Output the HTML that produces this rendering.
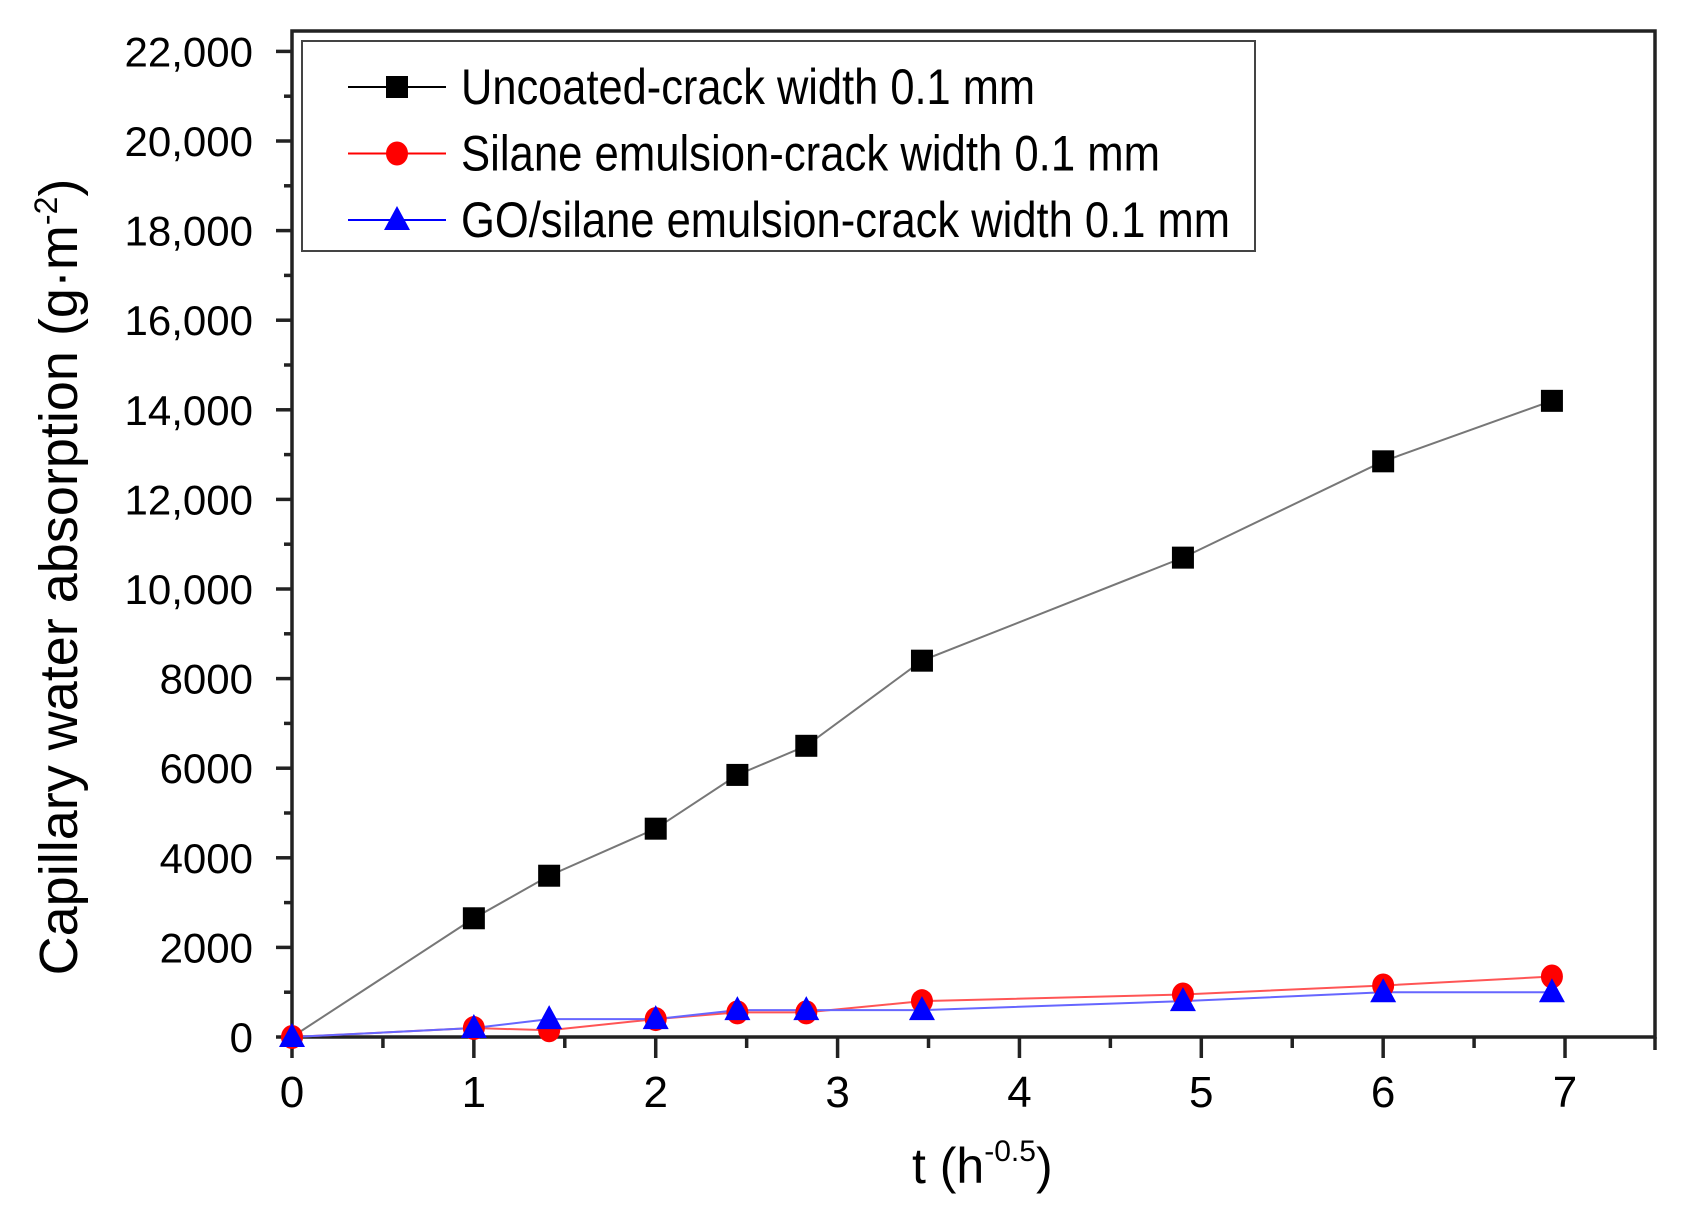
<!DOCTYPE html>
<html><head><meta charset="utf-8"><style>html,body{margin:0;padding:0;background:#fff}</style></head>
<body>
<svg width="1686" height="1227" viewBox="0 0 1686 1227" xmlns="http://www.w3.org/2000/svg" font-family="'Liberation Sans', Arial, sans-serif">
<rect width="1686" height="1227" fill="#fff"/>
<text font-size="54" text-anchor="middle" transform="translate(77,577) rotate(-90)" fill="#000">Capillary water absorption (g·m<tspan dy="-20" font-size="32">-2</tspan><tspan dy="20">)</tspan></text>
<text x="912" y="1183" font-size="50" fill="#000">t (h<tspan dy="-22" font-size="30">-0.5</tspan><tspan dy="22">)</tspan></text>
<script>
(function(){
const ns="http://www.w3.org/2000/svg";
const svg=document.querySelector('svg');
function el(t,a,txt){const e=document.createElementNS(ns,t);for(const k in a)e.setAttribute(k,a[k]);if(txt!==undefined)e.textContent=txt;svg.appendChild(e);return e;}
const X=v=>292+v*181.86, Y=v=>1037-v*0.0448;
el('rect',{x:292,y:31,width:1363,height:1006,fill:'none',stroke:'#222','stroke-width':3.5});
for(let v=0;v<=22000;v+=1000){const y=Y(v);const maj=v%2000==0;
 el('line',{x1:maj?276:284,x2:292,y1:y,y2:y,stroke:'#222','stroke-width':3.5});
 if(maj){let s=v>=10000?(v/1000)+',000':String(v);
  el('text',{x:253,y:y+15,'font-size':42,'text-anchor':'end',fill:'#000'},s);}}
for(let i=0;i<=14;i++){const v=i*0.5;const x=X(v);const maj=i%2==0;
 el('line',{x1:x,x2:x,y1:1037,y2:maj?1058:1048,stroke:'#222','stroke-width':3.5});
 if(maj)el('text',{x:x,y:1107,'font-size':44,'text-anchor':'middle',fill:'#000'},String(v));}
el('line',{x1:1655,x2:1655,y1:1037,y2:1050,stroke:'#222','stroke-width':3.5});
const xs=[0,1,1.414,2,2.449,2.828,3.464,4.899,6,6.928];
const A=[0,2650,3600,4650,5850,6500,8400,10700,12850,14200];
const B=[0,200,150,400,550,550,800,950,1150,1350];
const C=[0,200,400,400,600,600,600,800,1000,1000];
function line(d,c){el('polyline',{points:xs.map((x,i)=>X(x)+','+Y(d[i])).join(' '),fill:'none',stroke:c,'stroke-width':2});}
line(A,'#777');line(B,'#f55');line(C,'#66f');
const sq=(x,y)=>el('rect',{x:x-11,y:y-11,width:22,height:22,fill:'#000'});
const ci=(x,y)=>el('ellipse',{cx:x,cy:y,rx:11,ry:12,fill:'#f00'});
const tr=(x,y)=>el('polygon',{points:`${x},${y-14} ${x-13},${y+10} ${x+13},${y+10}`,fill:'#00f'});
xs.forEach((x,i)=>ci(X(x),Y(B[i])));
xs.forEach((x,i)=>tr(X(x),Y(C[i])));
xs.forEach((x,i)=>{if(i>0)sq(X(x),Y(A[i]))});
el('rect',{x:302,y:41,width:953,height:210,fill:'#fff',stroke:'#444','stroke-width':2});
const L=[['#000','Uncoated-crack width 0.1 mm',574,sq],['#f00','Silane emulsion-crack width 0.1 mm',699,ci],['#00f','GO/silane emulsion-crack width 0.1 mm',769,tr]];
L.forEach((l,i)=>{const y=87+i*66.5;
 el('line',{x1:348,x2:446,y1:y,y2:y,stroke:l[0],'stroke-width':2});
 l[3](397,y);
 el('text',{x:461,y:y+17,'font-size':50,textLength:l[2],lengthAdjust:'spacingAndGlyphs',fill:'#000'},l[1]);});
})();
</script>
</svg>
</body></html>
